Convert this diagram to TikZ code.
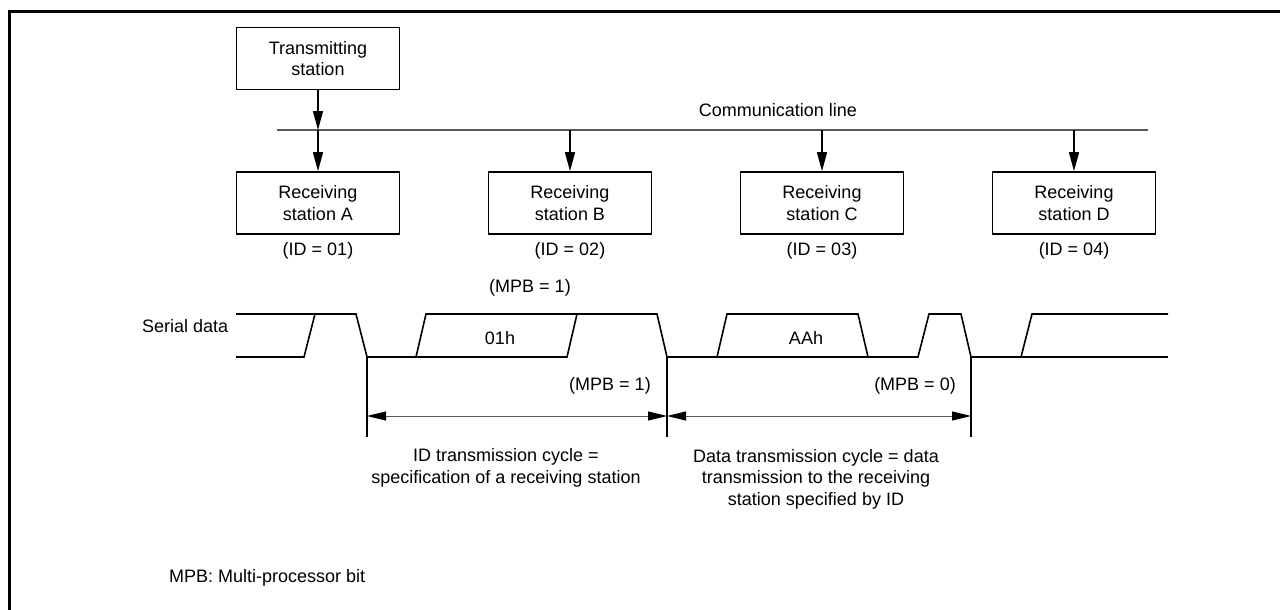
\documentclass[tikz,border=0pt]{standalone}
\usepackage{fontspec}
\setmainfont{Liberation Sans}
\usetikzlibrary{arrows.meta}
\newcommand{\fs}{\fontsize{18}{21.5}\selectfont}
\tikzset{
  stationbox/.style={draw, line width=1.6pt, minimum width=163pt, minimum height=62pt, align=center, inner sep=0pt, font=\fs},
  txt/.style={inner sep=0pt, font=\fs, align=center},
  feed/.style={line width=1.4pt, -{Triangle[length=19pt,width=10pt]}},
  bus/.style={draw=black!65, line width=1.2pt},
  wave/.style={line width=1.6pt, line join=miter},
  tick/.style={line width=1.6pt},
  dim/.style={draw=black!65, line width=1pt, {Triangle[length=19pt,width=9pt,black]}-{Triangle[length=19pt,width=9pt,black]}}
}
\begin{document}
\begin{tikzpicture}[x=1pt,y=-1pt]
\useasboundingbox (0,0) rectangle (1280,610);
% frame
\draw[line width=3pt] (9.5,610) -- (9.5,11.5) -- (1280,11.5);

% stations
\node[stationbox] (trans) at (318,58.5) {Transmitting\\station};
\node[stationbox] (recA) at (318,203) {Receiving\\station A};
\node[stationbox] (recB) at (570,203) {Receiving\\station B};
\node[stationbox] (recC) at (822,203) {Receiving\\station C};
\node[stationbox] (recD) at (1074,203) {Receiving\\station D};

% communication line
\coordinate (busL) at (277,130);
\coordinate (busR) at (1148,130);
\draw[bus] (busL) -- (busR);
\node[txt] (comm) at (778,110) {Communication line};
\coordinate (tapA) at (318,130);
\coordinate (tapB) at (570,130);
\coordinate (tapC) at (822,130);
\coordinate (tapD) at (1074,130);
\draw[feed] (trans.south) -- (tapA);
\draw[feed] (tapA) -- (recA.north);
\draw[feed] (tapB) -- (recB.north);
\draw[feed] (tapC) -- (recC.north);
\draw[feed] (tapD) -- (recD.north);

% IDs
\node[txt] (idA) at (318,251) {(ID = 01)};
\node[txt] (idB) at (570,251) {(ID = 02)};
\node[txt] (idC) at (822,251) {(ID = 03)};
\node[txt] (idD) at (1074,251) {(ID = 04)};

% serial data
\node[txt] (mpbtop) at (530,288) {(MPB = 1)};
\node[txt, anchor=west] (serial) at (142,326) {Serial data};
\draw[wave] (236,314) -- (356,314) -- (367,357) -- (416,357) -- (426,314) -- (657,314)
  -- (667,357) -- (717,357) -- (727,314) -- (858,314) -- (868,357) -- (918,357)
  -- (929,314) -- (961,314) -- (971,357) -- (1021,357) -- (1032,314) -- (1168,314);
\draw[wave] (236,357) -- (304,357) -- (315,314);
\draw[wave] (416,357) -- (567,357) -- (577,314);
\draw[wave] (717,357) -- (868,357);
\draw[wave] (1021,357) -- (1168,357);
\node[txt] (byte1) at (500,338) {01h};
\node[txt] (byte2) at (806,338) {AAh};

% cycle markers
\coordinate (t1) at (367,357); \coordinate (b1) at (367,437);
\coordinate (t2) at (667,357); \coordinate (b2) at (667,437);
\coordinate (t3) at (971,357); \coordinate (b3) at (971,437);
\draw[tick] (t1) -- (b1);
\draw[tick] (t2) -- (b2);
\draw[tick] (t3) -- (b3);
\coordinate (d1) at (367,416);
\coordinate (d2) at (667,416);
\coordinate (d3) at (971,416);
\draw[dim] (d1) -- (d2);
\draw[dim] (d2) -- (d3);
\node[txt] (mpb1) at (610,386) {(MPB = 1)};
\node[txt] (mpb0) at (915,386) {(MPB = 0)};

\node[txt] (idcycle) at (506,468) {ID transmission cycle =\\specification of a receiving station};
\node[txt] (datacycle) at (816,479) {Data transmission cycle = data\\transmission to the receiving\\station specified by ID};

\node[txt, anchor=west] (note) at (169,578) {MPB: Multi-processor bit};
\end{tikzpicture}
\end{document}
